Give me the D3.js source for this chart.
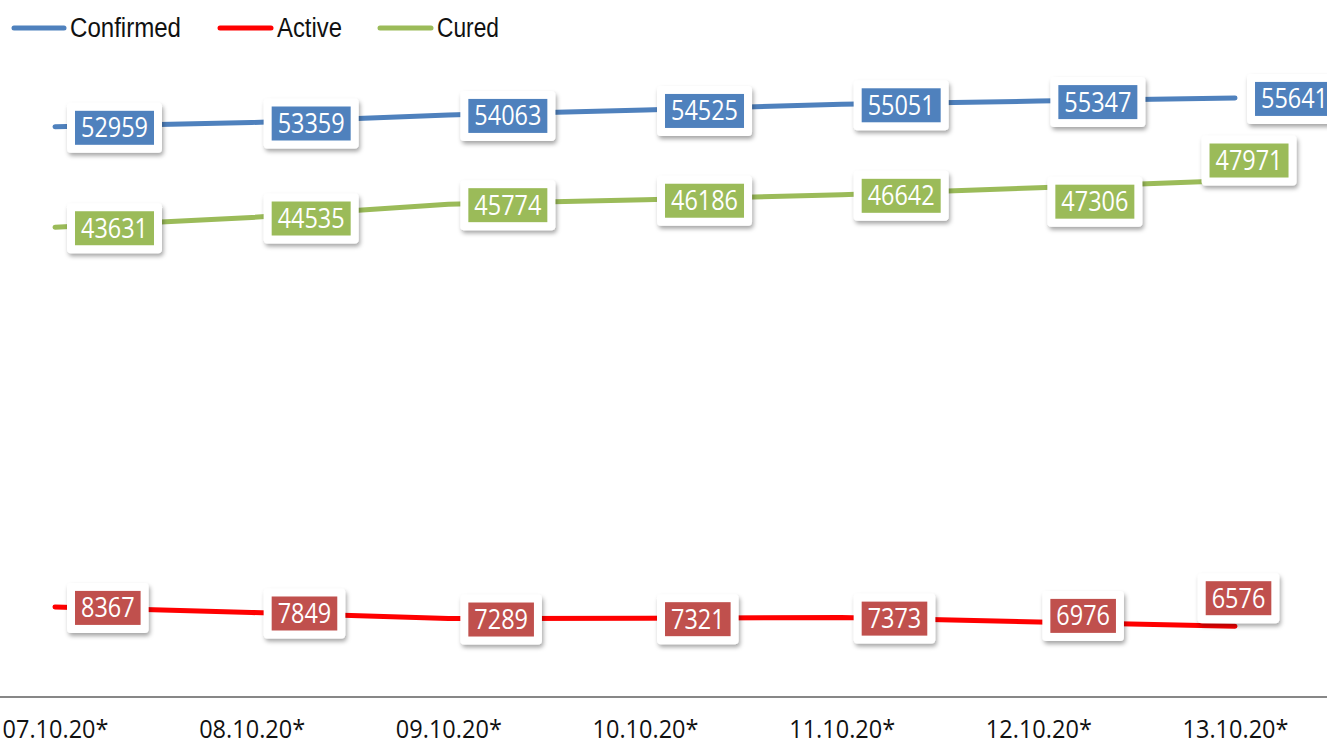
<!DOCTYPE html>
<html><head><meta charset="utf-8">
<script src="https://cdn.jsdelivr.net/npm/d3@7"></script>
<style>html,body{margin:0;padding:0;background:#fff;overflow:hidden}</style>
</head><body>
<svg id="c" width="1327" height="742"></svg>
<script>
const categories = ["07.10.20*","08.10.20*","09.10.20*","10.10.20*","11.10.20*","12.10.20*","13.10.20*"];
const confirmed = [52959,53359,54063,54525,55051,55347,55641];
const active = [8367,7849,7289,7321,7373,6976,6576];
const cured = [43631,44535,45774,46186,46642,47306,47971];
const seriesNames = ["Confirmed","Active","Cured"];

const series = [
  {name:seriesNames[0], values:confirmed, line:"#4F81BD", box:"#4F81BD", key:"c"},
  {name:seriesNames[1], values:active, line:"#FF0000", box:"#C0504D", key:"a"},
  {name:seriesNames[2], values:cured, line:"#9BBB59", box:"#9BBB59", key:"u"}
];

const svg = d3.select("#c");
const W = 1327, H = 742;
const step = 196.67;
const x = d3.scalePoint().domain(categories).range([55, 55 + step*6]);
const y = d3.scaleLinear().domain([0,60000]).range([697, 51]);

const defs = svg.append("defs");
const f = defs.append("filter").attr("id","sh").attr("x","-20%").attr("y","-20%").attr("width","150%").attr("height","160%");
f.append("feDropShadow").attr("dx",1.5).attr("dy",3).attr("stdDeviation",2.2).attr("flood-color","#000").attr("flood-opacity",0.35);

// axis
const xAxis = d3.axisBottom(x).tickSize(0).tickPadding(0);
const gx = svg.append("g").attr("transform","translate(0,697)").call(xAxis);
gx.select(".domain").remove();
gx.append("line").attr("x1",0).attr("x2",W).attr("y1",0).attr("y2",0).attr("stroke","#878787").attr("stroke-width",2);
gx.selectAll(".tick text")
  .attr("y",41).attr("dy",0)
  .attr("fill","#111")
  .attr("font-family","'Open Sans', sans-serif")
  .attr("font-size",25)
  .attr("textLength",106).attr("lengthAdjust","spacingAndGlyphs");

// lines
const line = d3.line().x((d,i)=>x(categories[i])).y(d=>y(d));
series.forEach(s=>{
  svg.append("path").datum(s.values).attr("d",line)
    .attr("fill","none").attr("stroke",s.line).attr("stroke-width",5).attr("stroke-linecap","round");
});

// label placement (chart-side adjustments, as in the original)
function place(s, i, px, py, ow) {
  const n = s.values.length - 1;
  if (s.key === "u" && i === n) return [px + 14, py - 20];
  if (s.key === "a" && i === n) return [px + 3.5, py - 28];
  if (s.key === "u" && i === n - 1) return [px + 9 + ow/2, py + 14];
  if (s.key === "a" && i === n - 1) return [px + 4 + ow/2, py - 6];
  return [px + 12 + ow/2, py + 1];
}

const charW = 13.4;
series.forEach(s=>{
  s.values.forEach((v,i)=>{
    const px = x(categories[i]), py = y(v);
    const txt = String(v);
    const tw = txt.length*charW;
    const iw = tw + 12, ih = 34;
    const ow = iw + 16, oh = 50;
    const [cx, cy] = place(s, i, px, py, ow);
    const g = svg.append("g").attr("transform",`translate(${cx},${cy})`);
    g.append("rect").attr("x",-ow/2).attr("y",-oh/2).attr("width",ow).attr("height",oh)
      .attr("rx",4).attr("fill","#fff").attr("filter","url(#sh)");
    g.append("rect").attr("x",-iw/2).attr("y",-ih/2).attr("width",iw).attr("height",ih).attr("fill",s.box);
    g.append("text").attr("x",0).attr("y",9.5).attr("text-anchor","middle")
      .attr("fill","#fff").attr("font-family","'Open Sans', sans-serif").attr("font-size",27)
      .attr("textLength",tw).attr("lengthAdjust","spacingAndGlyphs").text(txt);
  });
});

// legend
const legendPos = [{x1:12,x2:66,tx:70,tl:111},{x1:218,x2:273,tx:277,tl:65},{x1:378,x2:433,tx:437,tl:62}];
series.forEach((s,i)=>{
  const p = legendPos[i];
  svg.append("line").attr("x1",p.x1+2).attr("x2",p.x2-2).attr("y1",28).attr("y2",28)
    .attr("stroke",s.line).attr("stroke-width",5).attr("stroke-linecap","round");
  svg.append("text").attr("x",p.tx).attr("y",37).attr("fill","#111")
    .attr("font-family","'Liberation Sans Narrow','Liberation Sans',sans-serif").attr("font-size",27)
    .attr("textLength",p.tl).attr("lengthAdjust","spacingAndGlyphs").text(s.name);
});
</script>
</body></html>
